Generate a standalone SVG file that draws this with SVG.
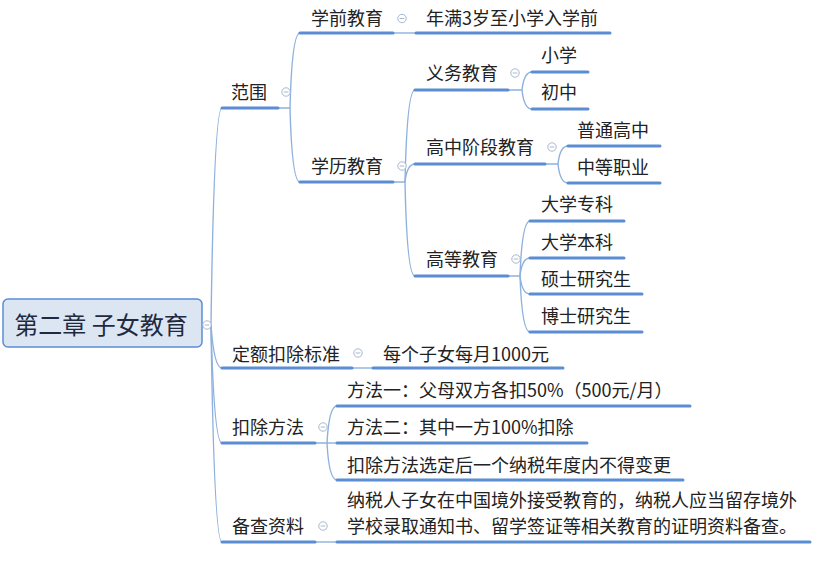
<svg xmlns="http://www.w3.org/2000/svg" width="830" height="571" viewBox="0 0 830 571">
<style>
.t{font-family:"Noto Sans CJK SC","Microsoft YaHei",sans-serif;font-size:18px;fill:#222}
.root{font-family:"Noto Sans CJK SC","Microsoft YaHei",sans-serif;font-size:24px;fill:#1f2a40}
.ul{stroke:#5b8dd3;stroke-width:3;fill:none;stroke-linecap:round}
.c{stroke:#8fb1dd;stroke-width:1.4;fill:none}
.btn{fill:#fff;stroke:#a6b8cf;stroke-width:1}
.btnm{stroke:#a6b8cf;stroke-width:1}
</style>
<defs>
<g id="b"><circle class="btn" r="4.2"/><line class="btnm" x1="-2.3" y1="0" x2="2.3" y2="0"/></g>
</defs>
<rect width="830" height="571" fill="#fff"/>
<g id="connectors">
<path class="c" d="M211 325 Q214 108 222 108"/>
<path class="c" d="M211 325 Q214 368 222 368"/>
<path class="c" d="M211 325 Q214 443 222 443"/>
<path class="c" d="M211 325 Q214 542 222 542"/>
<path class="c" d="M278 108 L290 108 Q292 33 300 33"/>
<path class="c" d="M290 108 Q292 182 300 182"/>
<path class="c" d="M393 33 L416 33"/>
<path class="c" d="M393 182 L405 182 Q407 90 415 90"/>
<path class="c" d="M405 182 Q407 164 415 164"/>
<path class="c" d="M405 182 Q407 276 415 276"/>
<path class="c" d="M508 90 L522 90 Q524 72 532 72"/>
<path class="c" d="M522 90 Q524 109 532 109"/>
<path class="c" d="M545 164 L558 164 Q560 146 568 146"/>
<path class="c" d="M558 164 Q560 183 568 183"/>
<path class="c" d="M508 276 L520 276 Q522 221 530 221"/>
<path class="c" d="M520 276 Q522 258 530 258"/>
<path class="c" d="M520 276 Q522 294 530 294"/>
<path class="c" d="M520 276 Q522 332 530 332"/>
<path class="c" d="M352 368 L373 368"/>
<path class="c" d="M315 443 L327 443 Q329 406 337 406"/>
<path class="c" d="M327 443 L337 443"/>
<path class="c" d="M327 443 Q329 480 337 480"/>
<path class="c" d="M315 542 L337 542"/>
</g>
<g id="root">
<rect x="3" y="299" width="199" height="48" rx="5" fill="#dce6f2" stroke="#5b8dd3" stroke-width="1.5"/>
<text class="root" x="101" y="334" text-anchor="middle">第二章 子女教育</text>
<use href="#b" x="207" y="325"/>
</g>
<g id="n-fanwei"><text class="t" x="231" y="99">范围</text><line class="ul" x1="222" y1="108" x2="278" y2="108"/><use href="#b" x="286" y="92"/></g>
<g id="n-xueqian"><text class="t" x="311" y="25">学前教育</text><line class="ul" x1="300" y1="33" x2="393" y2="33"/><use href="#b" x="402" y="18.5"/></g>
<g id="n-nianman"><text class="t" x="426" y="25">年满3岁至小学入学前</text><line class="ul" x1="416" y1="33" x2="610" y2="33"/></g>
<g id="n-xueli"><text class="t" x="311" y="173">学历教育</text><line class="ul" x1="300" y1="182" x2="393" y2="182"/><use href="#b" x="402" y="166"/></g>
<g id="n-yiwu"><text class="t" x="426" y="80">义务教育</text><line class="ul" x1="415" y1="90" x2="508" y2="90"/><use href="#b" x="515" y="73"/></g>
<g id="n-xiaoxue"><text class="t" x="541" y="62">小学</text><line class="ul" x1="532" y1="72" x2="588" y2="72"/></g>
<g id="n-chuzhong"><text class="t" x="541" y="99">初中</text><line class="ul" x1="532" y1="109" x2="588" y2="109"/></g>
<g id="n-gaozhong"><text class="t" x="426" y="154">高中阶段教育</text><line class="ul" x1="415" y1="164" x2="545" y2="164"/><use href="#b" x="552" y="147"/></g>
<g id="n-putong"><text class="t" x="577" y="137">普通高中</text><line class="ul" x1="568" y1="146" x2="660" y2="146"/></g>
<g id="n-zhongdeng"><text class="t" x="577" y="174">中等职业</text><line class="ul" x1="568" y1="183" x2="660" y2="183"/></g>
<g id="n-gaodeng"><text class="t" x="426" y="266">高等教育</text><line class="ul" x1="415" y1="276" x2="508" y2="276"/><use href="#b" x="516" y="259"/></g>
<g id="n-zhuanke"><text class="t" x="541" y="211">大学专科</text><line class="ul" x1="530" y1="221" x2="624" y2="221"/></g>
<g id="n-benke"><text class="t" x="541" y="249">大学本科</text><line class="ul" x1="530" y1="258" x2="624" y2="258"/></g>
<g id="n-shuoshi"><text class="t" x="541" y="286">硕士研究生</text><line class="ul" x1="530" y1="294" x2="642" y2="294"/></g>
<g id="n-boshi"><text class="t" x="541" y="323">博士研究生</text><line class="ul" x1="530" y1="332" x2="642" y2="332"/></g>
<g id="n-dinge"><text class="t" x="232" y="361">定额扣除标准</text><line class="ul" x1="222" y1="368" x2="352" y2="368"/><use href="#b" x="358" y="353"/></g>
<g id="n-meige"><text class="t" x="383" y="361">每个子女每月1000元</text><line class="ul" x1="373" y1="368" x2="563" y2="368"/></g>
<g id="n-kouchu"><text class="t" x="232" y="434">扣除方法</text><line class="ul" x1="222" y1="443" x2="315" y2="443"/><use href="#b" x="323" y="427"/></g>
<g id="n-fangfa1"><text class="t" x="347" y="397">方法一：父母双方各扣50%（500元/月）</text><line class="ul" x1="337" y1="406" x2="690" y2="406"/></g>
<g id="n-fangfa2"><text class="t" x="347" y="434">方法二：其中一方100%扣除</text><line class="ul" x1="337" y1="443" x2="587" y2="443"/></g>
<g id="n-xuanding"><text class="t" x="347" y="472">扣除方法选定后一个纳税年度内不得变更</text><line class="ul" x1="337" y1="480" x2="683" y2="480"/></g>
<g id="n-beicha"><text class="t" x="232" y="533">备查资料</text><line class="ul" x1="222" y1="542" x2="315" y2="542"/><use href="#b" x="323" y="526"/></g>
<g id="n-nashui"><text class="t" x="347" y="507">纳税人子女在中国境外接受教育的，纳税人应当留存境外</text><text class="t" x="347" y="533">学校录取通知书、留学签证等相关教育的证明资料备查。</text><line class="ul" x1="337" y1="542" x2="810" y2="542"/></g>
</svg>
